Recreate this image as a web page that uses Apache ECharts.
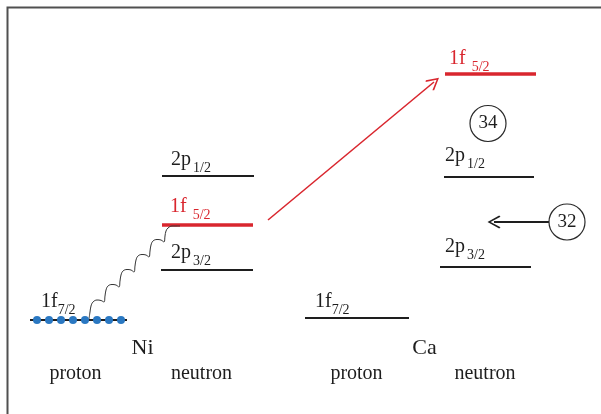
<!DOCTYPE html>
<html><head><meta charset="utf-8">
<script src="https://cdn.jsdelivr.net/npm/echarts@6/dist/echarts.min.js"></script>
<style>html,body{margin:0;padding:0;background:#fff}#c{width:601px;height:414px}</style>
</head><body><div id="c"></div>
<script>
// Single-particle levels (x range on the diagram, energy position)
const levelOrbit  = ['1f','2p','1f','2p','1f','2p','2p','1f'];
const levelSpin   = ['7/2','3/2','5/2','1/2','7/2','3/2','1/2','5/2'];
const levelStart  = [30,161,162,162,305,440,444,445];
const levelEnd    = [127,253,253,254,409,531,534,536];
const levelEnergy = [320,270,225,175.5,318,267,176.5,74];
const levelActive = [0,0,1,0,0,0,0,1];
const labelX      = [41,171,170,171,315,445,445,449];
const labelTop    = [292,242.5,197,149.5,292,237,145.5,49];
// protons filling Ni 1f7/2
const protonX = [37,49,61,73,85,97,109,121];
const protonY = 320;
// column and nucleus labels
const columnNames = ['proton','neutron','proton','neutron'];
const columnX = [75.5,201.5,356.5,485];
const columnY = 374;
const nucleusNames = ['Ni','Ca'];
const nucleusX = [142.5,424.5];
const nucleusY = 348;
// magic numbers
const magicNumbers = ['34','32'];
const magicX = [488,567];
const magicY = [123.5,222];
// arrows
const transitionArrow = [[268,220],[434,82]];
const shiftArrow = [[549,222],[494,222]];
// photon (wavy) line
const photonWave = [
  [89,319],[90,312],[91,306],[93,302],[97,300],[101,300.5],[104,302],
  [105,296],[106,290],[108,286],[112,284.5],[116,285],[119,287],
  [120,281],[121,275],[123,271],[127,269.5],[131,270],[134,272],
  [135,266],[136,260],[138,256],[142,254.5],[146,255],[149,257],
  [150,251],[151,245],[153,241],[157,239.5],[161,240],[164,242],
  [165,236],[166,231],[168,228],[172,226],[176,226],[180,226]
];

const RED = '#d9262e', BLACK = '#1e1e1e', BLUE = '#2a78c2';
const FONT = 'Liberation Serif';
const chevron = 'path://M50,0L100,90L91,100L50,24L9,100L0,90Z';

const levelLines = levelOrbit.map((o,i)=>({
  coords:[[levelStart[i],levelEnergy[i]],[levelEnd[i],levelEnergy[i]]],
  lineStyle:{color: levelActive[i]?RED:BLACK, width: levelActive[i]?3.5:2, opacity:1}
}));

const labelData = levelOrbit.map((o,i)=>({value:[labelX[i],labelTop[i]]}));

const chart = echarts.init(document.getElementById('c'), null, {renderer:'canvas'});
chart.setOption({
  animation:false,
  grid:{left:0,right:0,top:0,bottom:0},
  xAxis:{type:'value',min:0,max:601,show:false},
  yAxis:{type:'value',min:0,max:414,inverse:true,show:false},
  graphic:[{type:'polyline',shape:{points:[[7.5,414],[7.5,7.5],[601,7.5]]},style:{stroke:'#505050',lineWidth:2,fill:null}}],
  series:[
    {type:'lines',coordinateSystem:'cartesian2d',data:levelLines,z:2,silent:true,
     lineStyle:{opacity:1}},
    {type:'line',data:photonWave,smooth:0.4,showSymbol:false,symbol:'none',
     lineStyle:{color:'#333',width:1},z:3,silent:true},
    {type:'scatter',data:protonX.map(x=>[x,protonY]),symbolSize:8,
     itemStyle:{color:BLUE,opacity:1},z:4,silent:true},
    {type:'lines',coordinateSystem:'cartesian2d',z:3,silent:true,
     symbol:['none',chevron],symbolSize:[13,13],lineStyle:{opacity:1},
     data:[{coords:transitionArrow,lineStyle:{color:RED,width:1.6,opacity:1}},
           {coords:shiftArrow,lineStyle:{color:BLACK,width:2,opacity:1}}]},
    {type:'scatter',data:magicX.map((x,i)=>[x,magicY[i]]),symbolSize:36,z:4,silent:true,
     itemStyle:{color:'#fff',borderColor:'#2a2a2a',borderWidth:1.2,opacity:1},
     label:{show:true,position:'inside',formatter:p=>magicNumbers[p.dataIndex],
            fontFamily:FONT,fontSize:19,color:BLACK}},
    {type:'scatter',data:labelData,symbolSize:0,z:5,silent:true,itemStyle:{opacity:1},
     label:{show:true,position:[0,0],align:'left',verticalAlign:'top',
       formatter:p=>{const i=p.dataIndex;const c=levelActive[i]?'r':'k';
         const g=levelActive[i]?'w':(levelOrbit[i]==='2p'?'n':'z');
         return '{m'+c+'|'+levelOrbit[i]+'}{s'+c+g+'|'+levelSpin[i]+'}';},
       rich:(()=>{const r={};
         [['k',BLACK],['r',RED]].forEach(([c,col])=>{
           r['m'+c]={fontFamily:FONT,fontSize:20,lineHeight:20,verticalAlign:'top',color:col};
           [['z',0],['n',2],['w',6]].forEach(([g,gap])=>{
             r['s'+c+g]={fontFamily:FONT,fontSize:14,lineHeight:25.5,verticalAlign:'bottom',padding:[0,0,0,gap],color:col};
           });
         });return r;})()}},
    {type:'scatter',data:columnX.map(x=>[x,columnY]),symbolSize:0,z:5,silent:true,itemStyle:{opacity:1},
     label:{show:true,position:[0,0],align:'center',verticalAlign:'middle',
            formatter:p=>columnNames[p.dataIndex],fontFamily:FONT,fontSize:20,color:BLACK}},
    {type:'scatter',data:nucleusX.map(x=>[x,nucleusY]),symbolSize:0,z:5,silent:true,itemStyle:{opacity:1},
     label:{show:true,position:[0,0],align:'center',verticalAlign:'middle',
            formatter:p=>nucleusNames[p.dataIndex],fontFamily:FONT,fontSize:22,color:BLACK}}
  ]
});
</script></body></html>
